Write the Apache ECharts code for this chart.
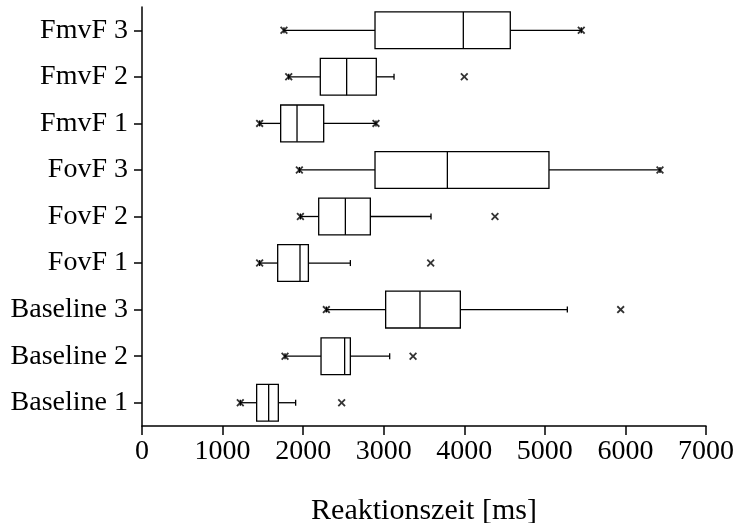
<!DOCTYPE html>
<html><head><meta charset="utf-8">
<script src="https://cdn.jsdelivr.net/npm/echarts@6/dist/echarts.min.js"></script>
<style>html,body{margin:0;padding:0;background:#fff}#c{width:737px;height:523px}</style>
</head><body><div id="c"></div>
<script>
var categories = ['Baseline 1','Baseline 2','Baseline 3','FovF 1','FovF 2','FovF 3','FmvF 1','FmvF 2','FmvF 3'];
var whiskerLow  = [1220, 1775, 2288, 1460, 1966, 1953, 1460, 1821, 1762];
var q1          = [1423, 2222, 3024, 1684, 2193, 2892, 1721, 2213, 2892];
var median      = [1572, 2515, 3450, 1961, 2524, 3790, 1924, 2540, 3988];
var q3          = [1692, 2586, 3951, 2065, 2834, 5051, 2255, 2908, 4571];
var whiskerHigh = [1907, 3074, 5279, 2586, 3587, 6429, 2904, 3128, 5452];
var outlierCategory = ['Baseline 1','Baseline 2','Baseline 3','FovF 1','FovF 2','FmvF 2'];
var outlierValue    = [2478, 3364, 5941, 3583, 4381, 4000];
var xTicks = ['0', '1000', '2000', '3000', '4000', '5000', '6000', '7000'];
var axisTitle = 'Reaktionszeit [ms]';

var FONT = 'Liberation Serif';
var boxData = categories.map(function(c, i){
  return [i, whiskerLow[i], q1[i], median[i], q3[i], whiskerHigh[i]];
});
// cross markers: data minimum (lower whisker), data maximum when no outlier, outliers
var marks = [];
categories.forEach(function(c, i){
  marks.push([whiskerLow[i], i]);
  if (outlierCategory.indexOf(c) < 0) marks.push([whiskerHigh[i], i]);
});
outlierCategory.forEach(function(c, k){ marks.push([outlierValue[k], categories.indexOf(c)]); });

var crossPath = 'path://M0,1.6L1.6,0L5,3.4L8.4,0L10,1.6L6.6,5L10,8.4L8.4,10L5,6.6L1.6,10L0,8.4L3.4,5Z';
var LW = 1.3;

var chart = echarts.init(document.getElementById('c'), null, {renderer: 'canvas'});
chart.setOption({
  animation: false,
  backgroundColor: '#fff',
  grid: {left: 142, right: 31, top: 7, bottom: 97, containLabel: false, outerBoundsMode: 'none'},
  xAxis: {
    type: 'value', min: 0, max: 7000, interval: 1000,
    axisLine: {show: true, lineStyle: {color: '#000', width: 1.5}},
    axisTick: {show: true, length: 9, lineStyle: {color: '#000', width: 1.5}},
    splitLine: {show: false},
    axisLabel: {color: '#000', fontFamily: FONT, fontSize: 28, margin: 12,
      formatter: function(v){ return xTicks[Math.round(v / 1000)]; }},
    name: axisTitle, nameLocation: 'middle', nameGap: 70,
    nameTextStyle: {color: '#000', fontFamily: FONT, fontSize: 30}
  },
  yAxis: {
    type: 'category', data: categories, boundaryGap: true,
    axisLine: {show: true, lineStyle: {color: '#000', width: 1.5}},
    axisTick: {show: true, alignWithLabel: true, length: 8, lineStyle: {color: '#000', width: 1.5}},
    splitLine: {show: false},
    axisLabel: {color: '#000', fontFamily: FONT, fontSize: 28, margin: 14}
  },
  series: [{
    type: 'custom',
    data: boxData,
    encode: {x: [1,2,3,4,5], y: 0},
    renderItem: function(params, api){
      var ci = api.value(0);
      var lo = api.coord([api.value(1), ci]);
      var a = api.coord([api.value(2), ci]);
      var m = api.coord([api.value(3), ci]);
      var b = api.coord([api.value(4), ci]);
      var hi = api.coord([api.value(5), ci]);
      var band = api.size([0, 1])[1];
      var h = band * 0.79;
      var y = a[1];
      var cap = 3;
      var st = {stroke: '#000', lineWidth: LW, fill: null};
      return {type: 'group', children: [
        {type: 'line', shape: {x1: lo[0], y1: y, x2: a[0], y2: y}, style: st},
        {type: 'line', shape: {x1: b[0], y1: y, x2: hi[0], y2: y}, style: st},
        {type: 'line', shape: {x1: lo[0], y1: y - cap, x2: lo[0], y2: y + cap}, style: st},
        {type: 'line', shape: {x1: hi[0], y1: y - cap, x2: hi[0], y2: y + cap}, style: st},
        {type: 'rect', shape: {x: a[0], y: y - h/2, width: b[0] - a[0], height: h}, style: {stroke: '#000', lineWidth: LW, fill: '#fff'}},
        {type: 'line', shape: {x1: m[0], y1: y - h/2, x2: m[0], y2: y + h/2}, style: st}
      ]};
    }
  }, {
    type: 'scatter',
    data: marks,
    symbol: crossPath,
    symbolSize: 8,
    itemStyle: {color: '#000'},
    z: 5
  }]
});
</script></body></html>
